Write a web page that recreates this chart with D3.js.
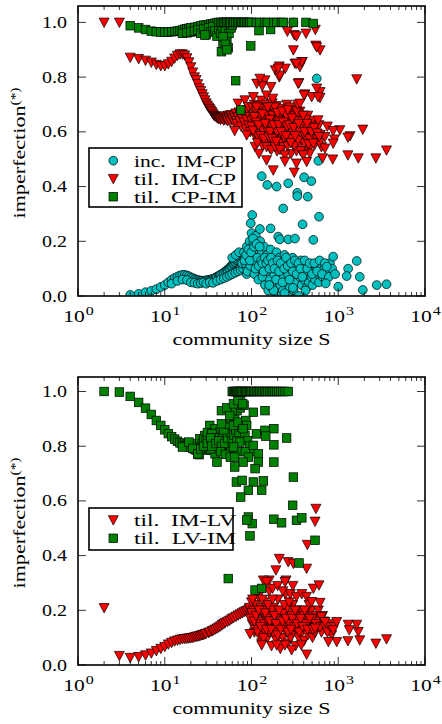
<!DOCTYPE html>
<html>
<head>
<meta charset="utf-8">
<script src="https://cdn.jsdelivr.net/npm/d3@7"></script>
<style>
  html, body { margin: 0; padding: 0; background: #fff; }
  svg { display: block; }
  text { font-family: "Liberation Serif", "DejaVu Serif", serif; fill: #000; white-space: pre; }
</style>
</head>
<body>
<svg id="chart" width="442" height="724"></svg>
<script>
// ---------- data: [community size S, imperfection] ----------
const incIMCP = [
  [4,0.004],[5,0.008],[6,0.014],[7,0.019],[8,0.025],[9,0.033],[10,0.04],[11,0.05],[12,0.059],[13,0.066],
  [14,0.071],[15,0.075],[16,0.077],[17,0.077],[18,0.075],[19,0.072],[20,0.068],[21,0.065],[22,0.062],[23,0.06],
  [24,0.058],[25,0.057],[26,0.056],[27,0.056],[28,0.055],[29,0.056],[30,0.057],[31,0.058],[32,0.058],[34,0.06],
  [35,0.062],[36,0.063],[38,0.066],[39,0.068],[40,0.07],[42,0.074],[43,0.076],[44,0.078],[46,0.082],[48,0.086],
  [50,0.09],[52,0.094],[53,0.095],[55,0.1],[56,0.102],[58,0.108],[59,0.11],[61,0.116],[62,0.12],[64,0.124],
  [65,0.125],[67,0.13],[68,0.132],[70,0.136],[72,0.14],[74,0.142],[76,0.145],[78,0.148],[80,0.15],
  [12,0.045],[14,0.055],[16,0.06],[18,0.058],[20,0.05],[22,0.048],[24,0.045],[26,0.047],[28,0.05],[30,0.045],
  [33,0.05],[36,0.048],[40,0.055],[44,0.06],[48,0.065],[52,0.07],[56,0.075],[60,0.08],[65,0.085],[70,0.09],
  [75,0.095],[80,0.1],[85,0.11],[90,0.12],[60,0.14],[66,0.15],[72,0.16],[78,0.12],[84,0.14],[88,0.08],
  [82,0.16],[85,0.12],[88,0.18],[90,0.09],[93,0.14],[95,0.2],[97,0.11],[100,0.17],[100,0.23],[103,0.13],
  [105,0.19],[108,0.08],[110,0.15],[112,0.22],[115,0.12],[118,0.17],[120,0.06],[123,0.14],[126,0.2],[128,0.1],
  [131,0.16],[134,0.07],[137,0.13],[140,0.18],[143,0.04],[146,0.11],[150,0.15],[153,0.09],[156,0.02],[160,0.13],
  [163,0.06],[166,0.17],[170,0.1],[174,0.03],[178,0.14],[182,0.08],[186,0.12],[190,0.01],[194,0.16],[198,0.06],
  [202,0.11],[206,0.0],[210,0.14],[215,0.04],[220,0.09],[225,0.13],[230,0.02],[235,0.07],[240,0.15],[246,0.05],
  [252,0.11],[258,0.0],[264,0.08],[270,0.13],[276,0.03],[282,0.1],[290,0.06],[298,0.14],[306,0.02],[314,0.09],
  [322,0.12],[330,0.05],[340,0.1],[350,0.0],[360,0.07],[370,0.13],[380,0.04],[392,0.09],[405,0.06],[418,0.11],
  [432,0.03],[446,0.08],[460,0.05],[475,0.1],[490,0.07],[505,0.04],[520,0.09],[540,0.06],[560,0.1],[580,0.08],
  [600,0.05],[620,0.09],[640,0.11],[660,0.07],[690,0.1],[720,0.06],[760,0.09],[800,0.12],
  [83,0.13],[87,0.15],[92,0.17],[96,0.13],[99,0.16],[104,0.21],[107,0.18],[111,0.1],[114,0.19],[117,0.14],
  [121,0.11],[124,0.18],[129,0.13],[133,0.12],[138,0.09],[142,0.14],[148,0.12],[155,0.13],[161,0.1],[168,0.14],
  [176,0.12],[184,0.1],[192,0.06],[200,0.13],[208,0.09],[218,0.12],[228,0.05],[238,0.1],[250,0.14],[262,0.11],
  [274,0.06],[286,0.12],[300,0.09],[316,0.13],[332,0.08],[348,0.12],[366,0.1],[386,0.07],[410,0.13],[440,0.1],
  [470,0.12],[500,0.08],[530,0.12],[570,0.09],[610,0.13],[650,0.08],[700,0.12],[780,0.07],[850,0.1],[920,0.08],
  [180,0.02],[160,0.04],[240,0.01],[300,0.03],[420,0.02],
  [304,1.0],[565,0.795],[590,0.494],[131,0.438],[152,0.406],[195,0.40],[265,0.412],[337,0.377],[337,0.365],[445,0.363],
  [404,0.434],[490,0.42],[232,0.32],[600,0.29],[388,0.262],[102,0.296],[98,0.266],[125,0.245],[166,0.247],[203,0.217],
  [212,0.207],[265,0.207],[317,0.21],[516,0.205],[874,0.144],[1633,0.128],[1300,0.10],[1250,0.073],[1770,0.07],[1000,0.034],
  [1918,0.022],[2780,0.04],[3600,0.043],[718,0.046],[736,0.107]
];

const tilIMCP = [
  [2,1.0],[3,1.0],
  [4,0.872],[5,0.867],[6,0.861],[7,0.854],[8,0.846],[9,0.841],[10,0.841],[11,0.848],[12,0.857],[13,0.869],
  [14,0.879],[15,0.884],[16,0.884],[17,0.88],[18,0.87],[19,0.855],[20,0.837],[21,0.818],[22,0.80],[23,0.79],
  [24,0.775],[25,0.76],[26,0.75],[27,0.738],[28,0.727],[29,0.716],[30,0.705],[31,0.697],[32,0.69],[33,0.684],
  [34,0.678],[35,0.672],
  [36,0.665],[37,0.66],[38,0.658],[39,0.655],[40,0.652],[41,0.65],[42,0.648],[43,0.65],[44,0.645],[45,0.652],
  [46,0.648],[47,0.655],[48,0.642],[49,0.65],[50,0.658],[51,0.645],[52,0.652],[53,0.64],[54,0.66],[55,0.648],
  [56,0.655],[57,0.638],[58,0.662],[59,0.65],[60,0.645],[62,0.66],[63,0.635],[64,0.652],[66,0.668],[67,0.642],
  [68,0.63],[70,0.655],[72,0.672],[73,0.64],[75,0.66],[76,0.62],[78,0.648],[80,0.675],[82,0.635],[84,0.66],
  [86,0.61],[88,0.645],[90,0.68],[92,0.625],[95,0.655],[97,0.6],[100,0.64],
  [64,0.604],[88,0.588],[110,0.546],[122,0.521],[149,0.497],[70,0.704],[84,0.716],[92,0.692],
  [102,0.69],[104,0.66],[106,0.62],[108,0.70],[110,0.64],[112,0.58],[114,0.675],[116,0.61],[118,0.655],[120,0.695],
  [122,0.57],[124,0.63],[126,0.67],[128,0.60],[130,0.715],[132,0.645],[134,0.55],[136,0.685],[138,0.62],[140,0.66],
  [143,0.59],[146,0.70],[148,0.635],[150,0.675],[153,0.57],[156,0.65],[158,0.61],[160,0.69],[163,0.54],[166,0.625],
  [168,0.665],[170,0.595],[173,0.705],[176,0.64],[179,0.56],[182,0.68],[185,0.615],[188,0.655],[191,0.58],[194,0.695],
  [197,0.53],[200,0.64],[204,0.60],[208,0.67],[212,0.56],[216,0.625],[220,0.685],[224,0.59],[228,0.65],[232,0.545],
  [236,0.61],[240,0.67],[245,0.575],[250,0.635],[255,0.70],[260,0.55],[265,0.615],[270,0.66],[275,0.58],[280,0.64],
  [286,0.52],[292,0.60],[298,0.68],[304,0.565],[310,0.625],[316,0.66],[322,0.585],[330,0.53],[338,0.645],[346,0.60],
  [354,0.555],[362,0.675],[370,0.615],[380,0.57],[390,0.64],[400,0.59],[410,0.53],[420,0.62],[432,0.565],[445,0.66],
  [458,0.60],[470,0.545],[485,0.63],[500,0.58],[520,0.64],[540,0.555],[560,0.61],[580,0.57],[600,0.625],[620,0.59],
  [640,0.545],
  [105,0.645],[115,0.69],[125,0.655],[135,0.605],[145,0.665],[155,0.625],[165,0.58],[175,0.66],[185,0.69],[195,0.62],
  [205,0.655],[215,0.59],[225,0.63],[235,0.665],[248,0.60],[258,0.645],[268,0.57],[278,0.69],[290,0.63],[302,0.595],
  [315,0.55],[328,0.61],[342,0.665],[356,0.58],[372,0.64],[388,0.60],[405,0.56],[425,0.645],[448,0.59],[475,0.62],
  [510,0.60],[550,0.58],
  [118,0.585],[128,0.64],[142,0.565],[152,0.605],[162,0.645],[172,0.62],[183,0.57],[196,0.60],[210,0.64],[222,0.61],
  [238,0.58],[252,0.66],[266,0.60],[282,0.61],[296,0.575],[312,0.64],[326,0.605],[345,0.57],[365,0.60],[385,0.62],
  [415,0.585],[440,0.61],[465,0.575],
  [100,0.62],[104,0.605],[108,0.655],[113,0.635],[117,0.56],[121,0.625],[127,0.585],[133,0.665],[139,0.575],[144,0.63],
  [149,0.545],[154,0.69],[159,0.58],[164,0.60],[169,0.535],[174,0.575],[180,0.625],[187,0.545],[193,0.565],[199,0.67],
  [206,0.625],[213,0.535],[219,0.60],[226,0.675],[233,0.635],[242,0.515],[250,0.585],[256,0.62],[262,0.68],[272,0.625],
  [284,0.56],[294,0.65],[306,0.615],[318,0.585],[334,0.675],[350,0.63],[368,0.53],[395,0.66],[412,0.60],[438,0.63],
  [455,0.555],[490,0.60],[530,0.615],[570,0.595],[610,0.56],
  [259,0.967],[311,0.955],[425,0.96],[544,0.974],[304,0.899],[550,0.916],[617,0.899],[317,0.85],[385,0.856],[209,0.84],
  [245,0.832],[188,0.826],[362,0.838],[209,0.80],[115,0.777],[143,0.789],[1633,0.793],[133,0.768],[168,0.765],[352,0.779],
  [413,0.738],[494,0.728],[617,0.746],[617,0.725],[149,0.734],[176,0.722],[105,0.728],[340,0.70],[748,0.62],[1044,0.607],
  [1918,0.609],[1368,0.585],[874,0.604],[904,0.573],[1292,0.58],[703,0.582],[3600,0.533],[2714,0.504],[1703,0.504],[1292,0.515],
  [864,0.50],[660,0.504],[243,0.492],[178,0.46],[311,0.452],
  [125,0.795],[212,0.807],[203,0.832],[345,0.777],[330,0.95],[565,0.91],[380,0.856],[330,0.85],[565,0.759],[585,0.728],
  [404,0.734],[874,0.558],[703,0.54],[600,0.582],[470,0.521],[362,0.704],[585,0.643],[516,0.558],[395,0.515],[432,0.491],
  [330,0.485]
];

const tilCPIM = [
  [4,0.988],[5,0.98],[6,0.974],[7,0.968],[8,0.966],[9,0.965],[10,0.964],[11,0.965],[12,0.966],[13,0.967],
  [14,0.968],[15,0.97],[16,0.972],[17,0.975],[18,0.977],[19,0.978],[20,0.98],[22,0.982],[24,0.985],[26,0.987],
  [28,0.99],[30,0.99],[32,0.992],[34,0.994],[36,0.995],[38,0.997],[40,0.998],
  [16,0.96],[18,0.962],[20,0.965],[22,0.968],[24,0.972],[26,0.96],[28,0.975],[30,0.955],[32,0.98],[34,0.965],
  [36,0.985],[38,0.97],[40,0.95],[42,0.975],[44,0.96],[46,0.985],[48,0.945],[50,0.97],[52,0.93],[55,0.96],
  [58,0.98],[60,0.99],
  [29,0.954],[47,0.947],[47,0.917],[54,0.907],[45,0.893],[50,0.92],[52,0.90],[98,0.914],[122,0.97],[166,0.974],
  [65.7,0.787],[75,0.68],
  [42,1.0],[44,1.0],[46,1.0],[48,1.0],[50,1.0],[52,1.0],[54,1.0],[56,1.0],[58,1.0],[61,1.0],
  [63,1.0],[66,1.0],[69,1.0],[72,1.0],[75,1.0],[78,1.0],[81,1.0],[84,1.0],[88,1.0],[92,1.0],
  [96,1.0],[100,1.0],[114,1.0],[125,1.0],[143,1.0],[152,1.0],[181,1.0],[195,1.0],[222,1.0],[233,1.0],
  [304,1.0],[425,1.0],[516,0.996]
];

const tilIMLV = [
  [2,0.209],[3,0.034],[4,0.027],[5,0.03],[6,0.036],[7,0.043],[8,0.052],[9,0.06],[10,0.067],[11,0.076],
  [12,0.082],[13,0.087],[14,0.09],[15,0.093],[16,0.095],[17,0.096],[18,0.097],[19,0.098],[20,0.099],[21,0.1],
  [22,0.102],[23,0.104],[24,0.105],[25,0.106],[26,0.108],[27,0.11],[28,0.111],[29,0.113],[30,0.115],[32,0.118],
  [33,0.12],[35,0.124],[36,0.126],[38,0.13],[40,0.134],[42,0.138],[44,0.142],[46,0.147],[48,0.151],[50,0.155],
  [53,0.159],[56,0.163],[59,0.168],[62,0.172],[66,0.177],[70,0.182],[74,0.186],[78,0.19],[82,0.194],[86,0.197],
  [90,0.2],[94,0.205],
  [95,0.21],[98,0.18],[100,0.23],[102,0.15],[105,0.2],[108,0.12],[110,0.17],[112,0.22],[115,0.14],[118,0.19],
  [120,0.25],[123,0.11],[126,0.16],[128,0.21],[131,0.08],[134,0.14],[137,0.18],[140,0.23],[143,0.12],[146,0.16],
  [150,0.2],[153,0.1],[156,0.15],[160,0.27],[163,0.13],[166,0.18],[170,0.07],[174,0.16],[178,0.21],[182,0.11],
  [186,0.15],[190,0.19],[194,0.09],[198,0.14],[202,0.24],[206,0.12],[210,0.17],[215,0.06],[220,0.15],[225,0.2],
  [230,0.1],[235,0.14],[240,0.18],[246,0.26],[252,0.12],[258,0.16],[264,0.08],[270,0.13],[276,0.19],[282,0.1],
  [290,0.15],[298,0.22],[306,0.12],[314,0.17],[322,0.07],[330,0.13],[340,0.18],[350,0.1],[360,0.15],[370,0.2],
  [380,0.12],[392,0.17],[405,0.09],[418,0.14],[432,0.19],[446,0.11],[460,0.16],[475,0.13],[490,0.2],[505,0.1],
  [520,0.15],[540,0.12],[560,0.18],[580,0.14],[600,0.16],[640,0.12],[680,0.16],[720,0.13],[780,0.15],[840,0.11],
  [100,0.19],[110,0.13],[120,0.16],[130,0.2],[140,0.15],[150,0.17],[160,0.12],[170,0.2],[180,0.16],[190,0.13],
  [200,0.18],[215,0.15],[230,0.19],[245,0.14],[260,0.21],[275,0.15],[290,0.18],[310,0.14],[330,0.2],[350,0.16],
  [375,0.14],[400,0.18],[430,0.15],[460,0.22],[500,0.17],
  [97,0.17],[103,0.24],[107,0.16],[113,0.18],[117,0.12],[122,0.2],[127,0.14],[133,0.24],[138,0.1],[144,0.19],
  [148,0.13],[155,0.22],[162,0.16],[168,0.13],[175,0.24],[184,0.18],[192,0.15],[200,0.11],[208,0.2],[218,0.13],
  [228,0.16],[238,0.22],[250,0.17],[262,0.12],[272,0.23],[285,0.13],[296,0.17],[318,0.2],[335,0.15],[355,0.12],
  [368,0.17],[388,0.14],[410,0.2],[440,0.13],[470,0.17],[510,0.13],[550,0.15],[590,0.2],[620,0.14],[660,0.18],
  [700,0.14],[750,0.12],[810,0.14],[900,0.14],[160,0.31],[175,0.28],[200,0.29],[230,0.27],[280,0.26],[330,0.25],
  [380,0.26],[430,0.25],[300,0.29],[250,0.31],
  [553,0.572],[540,0.525],[440,0.44],[209,0.389],[265,0.377],[304,0.371],[432,0.353],[191,0.347],[137,0.31],[149,0.304],
  [243,0.304],[516,0.28],[600,0.292],[617,0.228],[494,0.231],[3600,0.095],[2714,0.079],[1770,0.091],[1292,0.088],[1700,0.122],
  [1633,0.148],[1300,0.148],[1340,0.128],[960,0.158],[960,0.085],[770,0.085],[874,0.128],[640,0.176],[703,0.158],[540,0.134],
  [432,0.039],[290,0.055],[243,0.073],[195,0.073],[131,0.073],[375,0.073],[96,0.114]
];

const tilLVIM = [
  [2,1.0],[3,0.998],[4,0.982],[5,0.96],[6,0.939],[7,0.916],[8,0.894],[9,0.876],[10,0.86],[11,0.846],
  [12,0.835],[13,0.826],[14,0.818],[15,0.812],[16,0.807],[17,0.803],[18,0.8],[19,0.798],[20,0.797],[21,0.81],
  [16,0.797],[22,0.79],[23,0.785],[24,0.772],[25,0.769],[19,0.815],[21,0.792],
  [25.4,0.827],[29,0.839],[33,0.876],[38,0.864],[43,0.851],[33,0.803],[32,0.785],[41,0.785],[47,0.803],[38,0.772],
  [56,0.827],[52,0.85],[24,0.772],[27,0.81],[28,0.825],[30,0.82],[31,0.85],[35,0.845],[36,0.81],[40,0.83],
  [44,0.815],[46,0.84],[48,0.79],[50,0.86],[54,0.8],[58,0.78],[26,0.79],[30,0.795],[34,0.79],[37,0.83],
  [28,0.80],[31,0.81],[34,0.83],[35,0.8],[39,0.81],[42,0.82],[45,0.8],[49,0.81],[53,0.83],[57,0.85],
  [60,0.82],[63,0.84],[66,0.86],[68,0.82],[72,0.85],[76,0.87],[84,0.84],[90,0.82],[95,0.8],[100,0.78],
  [48,0.86],[54,0.88],[58,0.9],[64,0.91],[68,0.93],[74,0.94],[82,0.95],[66,0.95],[75,0.97],[60,0.93],
  [44,0.78],[50,0.77],[57,0.76],[70,0.78],[85,0.78],
  [45,0.93],[52,0.94],[62,0.955],[70,0.967],[79,0.955],[105,0.924],[143,0.93],[56,0.912],[45,0.882],[62,0.876],
  [70,0.888],[86,0.894],[88,0.876],[80,0.864],[114,0.845],[143,0.858],[181,0.864],[146,0.837],[254,0.83],[181,0.805],
  [105,0.803],[73,0.815],[62,0.797],[120,0.772],[92,0.76],[64,0.76],[40,0.742],[80,0.742],[120,0.742],[181,0.742],
  [64,0.724],[110,0.718],[304,0.687],[67,0.669],[78,0.675],[105,0.669],[137,0.673],[92,0.639],[131,0.639],[75,0.614],
  [298,0.584],[92,0.541],[102,0.517],[88,0.53],[181,0.533],[222,0.52],[330,0.529],[380,0.538],[540,0.456],[96,0.472],
  [353,0.373],[54,0.316],[110,0.274],[131,0.28],
  [60,1.0],[62,1.0],[64,1.0],[66,1.0],[68,1.0],[70,1.0],[72,1.0],[74,1.0],[76,1.0],[78,1.0],
  [80,1.0],[83,1.0],[86,1.0],[89,1.0],[92,1.0],[95,1.0],[98,1.0],[102,1.0],[106,1.0],[110,1.0],
  [115,1.0],[120,1.0],[125,1.0],[130,1.0],[136,1.0],[142,1.0],[148,1.0],[155,1.0],[162,1.0],[170,1.0],
  [178,1.0],[187,1.0],[196,1.0],[206,1.0],[218,1.0],[230,1.0],[245,1.0],[265,1.0]
];

const xTickExponents = [0, 1, 2, 3, 4];
const yTickValues = [0.0, 0.2, 0.4, 0.6, 0.8, 1.0];
const xLabel = "community size S";
const yLabel = "imperfection";
const yLabelSup = "(*)";

// ---------- layout ----------
const svg = d3.select("#chart");
const COLORS = { cyan: "#00bfbf", red: "#ff0000", green: "#008000" };

const panels = [
  {
    top: 6, bottom: 296, left: 78, right: 425, yMax: 1.06,
    series: [
      { label: "inc.  IM-CP", data: incIMCP, shape: "circle", color: COLORS.cyan },
      { label: "til.  IM-CP", data: tilIMCP, shape: "triangle", color: COLORS.red },
      { label: "til.  CP-IM", data: tilCPIM, shape: "square", color: COLORS.green }
    ],
    legend: { x: 89, y: 148, w: 153, h: 59, rowStart: 160.7, rowStep: 18 }
  },
  {
    top: 377, bottom: 665, left: 78, right: 425, yMax: 1.053,
    series: [
      { label: "til.  IM-LV", data: tilIMLV, shape: "triangle", color: COLORS.red },
      { label: "til.  LV-IM", data: tilLVIM, shape: "square", color: COLORS.green }
    ],
    legend: { x: 89, y: 508, w: 144, h: 42, rowStart: 520, rowStep: 18.3 }
  }
];

function drawMarker(g, shape, color, x, y) {
  if (shape === "circle") {
    g.append("circle").attr("cx", x).attr("cy", y).attr("r", 4.4)
      .attr("fill", color).attr("stroke", "#000").attr("stroke-width", 0.7);
  } else if (shape === "triangle") {
    const a = 5, h = 4.3;
    g.append("path")
      .attr("d", `M${x - a},${y - h}L${x + a},${y - h}L${x},${y + h + 0.8}Z`)
      .attr("fill", color).attr("stroke", "#000").attr("stroke-width", 0.7);
  } else {
    const s = 8.6;
    g.append("rect").attr("x", x - s / 2).attr("y", y - s / 2).attr("width", s).attr("height", s)
      .attr("fill", color).attr("stroke", "#000").attr("stroke-width", 0.7);
  }
}

panels.forEach(p => {
  const x = d3.scaleLog().domain([1, 1e4]).range([p.left, p.right]);
  const y = d3.scaleLinear().domain([0, p.yMax]).range([p.bottom, p.top]);
  const g = svg.append("g");

  const clipId = "clip" + p.top;
  svg.append("clipPath").attr("id", clipId).append("rect")
    .attr("x", p.left).attr("y", p.top).attr("width", p.right - p.left).attr("height", p.bottom - p.top);

  // scatter marks
  const marks = g.append("g").attr("clip-path", `url(#${clipId})`);
  p.series.forEach(s => {
    const sg = marks.append("g");
    s.data.forEach(d => drawMarker(sg, s.shape, s.color, x(d[0]), y(d[1])));
  });

  // ticks: log x (major + minor), linear y, all pointing inward
  const ticks = g.append("g").attr("stroke", "#000").attr("stroke-width", 0.8);
  const minor = [];
  xTickExponents.slice(0, -1).forEach(e => {
    for (let m = 2; m <= 9; m++) minor.push(m * Math.pow(10, e));
  });
  const major = xTickExponents.map(e => Math.pow(10, e));
  major.forEach(v => {
    ticks.append("line").attr("x1", x(v)).attr("x2", x(v)).attr("y1", p.bottom).attr("y2", p.bottom - 8);
    ticks.append("line").attr("x1", x(v)).attr("x2", x(v)).attr("y1", p.top).attr("y2", p.top + 8);
  });
  minor.forEach(v => {
    ticks.append("line").attr("x1", x(v)).attr("x2", x(v)).attr("y1", p.bottom).attr("y2", p.bottom - 4);
    ticks.append("line").attr("x1", x(v)).attr("x2", x(v)).attr("y1", p.top).attr("y2", p.top + 4);
  });
  yTickValues.forEach(v => {
    ticks.append("line").attr("x1", p.left).attr("x2", p.left + 8).attr("y1", y(v)).attr("y2", y(v));
    ticks.append("line").attr("x1", p.right).attr("x2", p.right - 8).attr("y1", y(v)).attr("y2", y(v));
  });

  // frame
  g.append("rect").attr("x", p.left).attr("y", p.top)
    .attr("width", p.right - p.left).attr("height", p.bottom - p.top)
    .attr("fill", "none").attr("stroke", "#000").attr("stroke-width", 1.6);

  // y tick labels
  yTickValues.forEach(v => {
    g.append("text").attr("x", p.left - 11).attr("y", y(v) + 5.5)
      .attr("text-anchor", "end").attr("font-size", 16)
      .attr("textLength", 25).attr("lengthAdjust", "spacingAndGlyphs")
      .text(d3.format(".1f")(v));
  });

  // x tick labels 10^n
  xTickExponents.forEach(e => {
    const t = g.append("text").attr("x", x(Math.pow(10, e)) - 14.7).attr("y", p.bottom + 26)
      .attr("font-size", 16);
    t.append("tspan").attr("textLength", 21.5).attr("lengthAdjust", "spacingAndGlyphs").text("10");
    t.append("tspan").attr("dy", -7).attr("font-size", 12).attr("dx", 1)
      .attr("textLength", 8).attr("lengthAdjust", "spacingAndGlyphs").text(String(e));
  });

  // axis titles
  g.append("text").attr("x", (p.left + p.right) / 2).attr("y", p.bottom + 48.5)
    .attr("text-anchor", "middle").attr("font-size", 16.5)
    .attr("textLength", 158).attr("lengthAdjust", "spacingAndGlyphs")
    .text(xLabel);
  const yt = g.append("text")
    .attr("transform", `translate(25,${(p.top + p.bottom) / 2 + 2}) rotate(-90)`)
    .attr("text-anchor", "middle").attr("font-size", 16.5);
  yt.append("tspan").attr("textLength", 113).attr("lengthAdjust", "spacingAndGlyphs").text(yLabel);
  yt.append("tspan").attr("dy", -6.5).attr("font-size", 12)
    .attr("textLength", 18).attr("lengthAdjust", "spacingAndGlyphs").text(yLabelSup);

  // legend
  const L = p.legend;
  const lg = g.append("g");
  lg.append("rect").attr("x", L.x).attr("y", L.y).attr("width", L.w).attr("height", L.h)
    .attr("fill", "#fff").attr("stroke", "#000").attr("stroke-width", 1.6);
  p.series.forEach((s, i) => {
    const cy = L.rowStart + i * L.rowStep;
    drawMarker(lg, s.shape, s.color, 113.3, cy);
    lg.append("text").attr("x", 134).attr("y", cy + 6).attr("font-size", 16)
      .attr("textLength", 102).attr("lengthAdjust", "spacingAndGlyphs")
      .text(s.label);
  });
});
</script>
</body>
</html>
